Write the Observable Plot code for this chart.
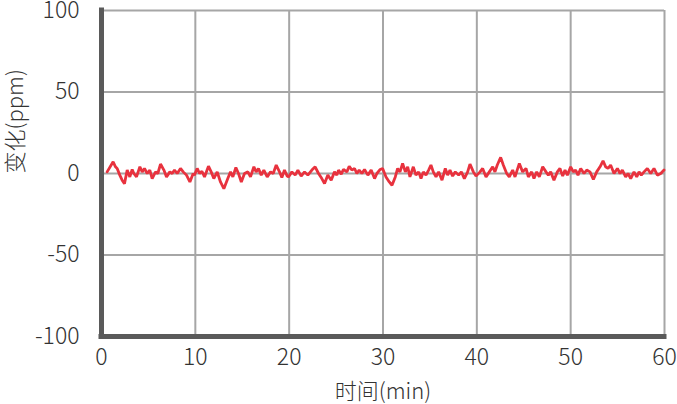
<!DOCTYPE html>
<html>
<head>
<meta charset="utf-8">
<script src="https://cdn.jsdelivr.net/npm/d3@7"></script>
<script src="https://cdn.jsdelivr.net/npm/@observablehq/plot@0.6"></script>
<style>
  html, body { margin: 0; padding: 0; background: #fff; }
  #chart { width: 677px; height: 404px; }
</style>
</head>
<body>
<div id="chart"></div>
<script>
const xTicks = [0, 10, 20, 30, 40, 50, 60];
const yTicks = [-100, -50, 0, 50, 100];
const xTitle = "时间(min)";
const yTitle = "变化(ppm)";

// time (min) and change (ppm)
const times = [
  0.6, 1.24, 1.49, 1.67, 1.95, 2.2, 2.45, 2.74, 3.02, 3.27, 3.45, 3.73, 4.09, 4.34, 4.58, 4.87, 5.15, 5.4, 5.76, 6.0,
  6.29, 6.65, 6.93, 7.28, 7.53, 7.78, 8.07, 8.42, 8.71, 9.06, 9.42, 9.77,
  9.9, 10.2, 10.45, 10.7, 10.98, 11.4, 11.69, 11.97, 12.33, 12.68, 13.04, 13.46, 13.75, 14.0, 14.32, 14.6, 14.9, 15.24,
  15.6, 15.88, 16.24, 16.48, 16.73, 17.02, 17.3, 17.66, 18.01, 18.3, 18.62, 18.97, 19.22, 19.5, 19.79,
  19.93, 20.29, 20.64, 20.93, 21.28, 21.64, 21.99, 22.42, 22.77, 23.13, 23.48, 23.77, 24.12, 24.48, 24.83, 25.08, 25.26,
  25.55, 25.79, 26.15, 26.4, 26.68, 26.97, 27.21, 27.46, 27.75, 28.03, 28.39, 28.74, 29.1, 29.35, 29.7,
  29.96, 30.32, 30.67, 30.96, 31.31, 31.56, 31.81, 32.09, 32.38, 32.63, 32.87, 33.23, 33.51, 33.8, 34.05, 34.3, 34.58,
  34.86, 35.11, 35.36, 35.65, 35.93, 36.29, 36.64, 36.89, 37.14, 37.42, 37.71, 38.06, 38.35, 38.67, 39.02, 39.27, 39.63, 39.91,
  40.34, 40.62, 40.98, 41.33, 41.69, 41.93, 42.18, 42.54, 42.82, 43.18, 43.46, 43.82, 44.07, 44.53, 44.88, 45.24, 45.49,
  45.84, 46.09, 46.38, 46.66, 47.02, 47.37, 47.62, 47.87, 48.22, 48.58, 48.86, 49.15, 49.4, 49.65,
  50.0, 50.28, 50.53, 50.78, 51.07, 51.42, 51.71, 52.06, 52.42, 52.77, 53.13, 53.45, 53.73, 53.98, 54.26, 54.62, 54.98,
  55.26, 55.51, 55.86, 56.11, 56.4, 56.75, 57.04, 57.29, 57.53, 57.82, 58.17, 58.53, 58.88, 59.24, 59.6, 59.95
];
const values = [
  1.0, 7.2, 4.1, 3.1, -1.0, -4.1, -6.2, 2.1, -2.1, 2.5, 0, -2.1, 4.1, 1.0, 3.1, 0, 2.1, -3.1, 1.0, 0,
  5.8, 2.1, -2.1, 1.0, 0, 2.1, 0, 3.1, 1.0, -1.0, -5.2, 0,
  -1.0, 3.1, 0, 1.4, -2.1, 4.5, 1.0, -3.1, 1.0, -5.2, -9.3, -3.1, 1.0, -2.1, 3.7, 0, -5.2, 0,
  1.0, -2.1, 4.1, 1.0, 3.1, -1.0, 2.1, -2.1, 1.0, 0, 5.2, 1.0, -2.5, 2.1, -1.6,
  -2.1, 1.0, -1.0, 2.1, -1.6, 1.0, -1.0, 2.1, 4.1, 0, -3.1, -6.2, -1.0, -4.1, 1.0, -1.0, 2.1,
  -0.4, 2.5, 1.0, 4.5, 2.1, 3.1, 0, 2.1, 0, 2.5, -1.0, 2.1, -3.1, 0, 2.5,
  3.1, -2.1, -5.2, -7.2, -2.1, 3.1, 1.0, 6.2, 1.0, 4.1, -2.1, 4.1, -1.0, 1.0, -3.1, 1.0, -1.0,
  2.1, 5.2, 1.0, -2.1, 1.0, -4.1, 3.1, -1.0, 2.1, -1.6, 1.0, -1.0, 1.0, -3.1, 1.0, 5.8, 1.0, -1.6,
  1.0, 3.1, -2.1, 1.0, 4.1, 1.0, 5.2, 9.9, 5.2, 0, -2.1, 2.1, -2.1, 6.2, 1.0, 3.1, -2.1,
  1.0, -3.1, 1.0, -2.1, 4.1, 1.0, -1.0, 1.0, -4.1, 1.0, 3.1, -1.6, 2.1, -1.0,
  4.1, 1.0, 2.1, -1.0, 3.1, 0, 2.1, 1.0, -3.7, 1.0, 4.1, 7.8, 4.1, 3.1, 5.2, 0, 3.1,
  0, 2.1, -2.1, 0, -3.1, 1.0, -2.1, 1.0, -1.0, 1.0, 3.1, 0, 3.1, -1.0, 0, 2.1
];

const data = times.map((t, i) => ({t, v: values[i]}));
const font = "'Noto Sans CJK SC', 'Noto Sans', sans-serif";

const chart = Plot.plot({
  width: 677,
  height: 404,
  marginLeft: 101,
  marginRight: 13,
  marginTop: 10,
  marginBottom: 68,
  x: {domain: [0, 60]},
  y: {domain: [-100, 100]},
  style: {fontFamily: font, fontSize: "23px", color: "#333", background: "#fff"},
  marks: [
    Plot.ruleX(xTicks, {stroke: "#a6a6a6", strokeWidth: 2}),
    Plot.ruleY(yTicks, {stroke: "#a6a6a6", strokeWidth: 2}),
    Plot.line(data, {x: "t", y: "v", stroke: "#e8323e", strokeWidth: 2.8, strokeLinejoin: "miter"}),
    Plot.ruleX([0], {y1: -100, y2: 100, stroke: "#5a5a5a", strokeWidth: 5, strokeLinecap: "square"}),
    Plot.ruleY([-100], {x1: 0, x2: 60, stroke: "#5a5a5a", strokeWidth: 5, strokeLinecap: "square"}),
    Plot.axisX({ticks: xTicks, tickSize: 0, tickPadding: 12, tickFormat: d => String(d),
      label: null, fontSize: 23, fontWeight: 300}),
    Plot.axisY({ticks: yTicks, tickSize: 0, tickPadding: 22, tickFormat: d => String(d),
      label: null, fontSize: 23, fontWeight: 300}),
    Plot.text([xTitle], {frameAnchor: "bottom", dy: 62, fontSize: 22, fill: "#333", fontWeight: 300}),
    Plot.text([yTitle], {frameAnchor: "left", rotate: -90, dx: -86, fontSize: 22, fill: "#333", fontWeight: 300})
  ]
});
document.getElementById("chart").appendChild(chart);
</script>
</body>
</html>
